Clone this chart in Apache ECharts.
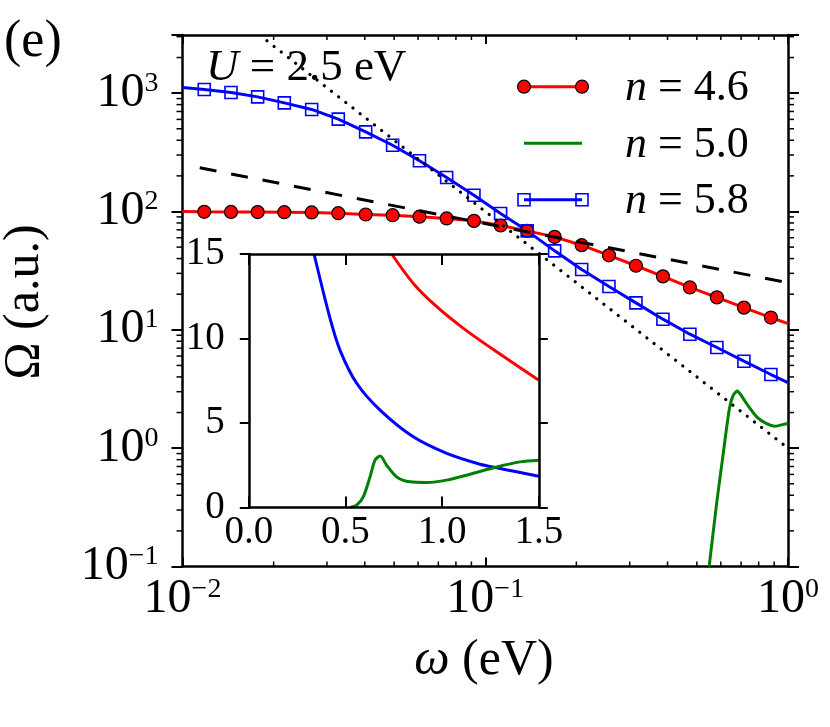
<!DOCTYPE html>
<html>
<head>
<meta charset="utf-8">
<script src="https://cdn.jsdelivr.net/npm/echarts@6/dist/echarts.min.js"></script>
<style>
html,body{margin:0;padding:0;background:#fff;}
#main{width:830px;height:727px;}
</style>
</head>
<body>
<div id="main"></div>
<script>
// omega (eV) at the marker positions, shared by n=4.6 and n=5.8
var omegaMarks = [0.0118, 0.01446, 0.01771, 0.02169, 0.02671, 0.0327, 0.04027, 0.04944, 0.06064, 0.07456, 0.09178,
                  0.1124, 0.1376, 0.1695, 0.2082, 0.2562, 0.3146, 0.3863, 0.4742, 0.5823, 0.7152, 0.8781];
var omegaEnds = [0.01, 1];
// n = 4.6
var red46 = [99.3, 99.1, 98.9, 98.6, 98.1, 96.7, 94.3, 93.0, 90.4, 87.3, 83.3,
             76.1, 68.6, 61.0, 51.9, 42.6, 34.8, 28.3, 22.8, 18.8, 15.4, 12.7];
var red46Ends = [100, 11.3];
// n = 5.8
var blue58 = [1075, 1014, 930, 828, 728, 603, 471, 363, 268, 194, 137,
              96.2, 68.6, 46.5, 32.3, 23.2, 16.9, 12.3, 9.18, 7.09, 5.43, 4.19];
var blue58Ends = [1117, 3.58];
// n = 5.0 (only above 0.1 on the log plot)
var greenOmega = [0.549, 0.581, 0.611, 0.639, 0.659, 0.68, 0.70, 0.73, 0.788, 0.85, 0.905, 0.989, 1];
var green50 = [0.1, 0.34, 0.9, 2.09, 2.8, 3.04, 2.8, 2.38, 1.84, 1.61, 1.53, 1.61, 1.62];
// guide lines: omega^-1/2 (dashed) and omega^-2 (dotted)
var dashOmega = [0.0114, 1];
var dashVal = [234, 25];
var dotOmega = [0.019, 1];
var dotVal = [2770, 1];
// inset, linear axes
var insetRedW = [0.739, 0.851, 0.972, 1.11, 1.282, 1.498];
var insetRed = [15, 13.26, 11.88, 10.6, 9.21, 7.54];
var insetBlueW = [0.3375, 0.42, 0.472, 0.558, 0.679, 0.851, 1.024, 1.196, 1.3, 1.386, 1.5];
var insetBlue = [15, 11.2, 9.3, 7.35, 5.76, 4.18, 3.2, 2.56, 2.31, 2.11, 1.85];
var insetGreenW = [0.524, 0.558, 0.592, 0.627, 0.653, 0.679, 0.713, 0.765, 0.834, 0.92, 1.024, 1.144, 1.282, 1.403, 1.5];
var insetGreen = [0, 0.14, 0.63, 1.81, 2.8, 3.04, 2.5, 1.81, 1.52, 1.48, 1.62, 1.97, 2.4, 2.7, 2.8];

var FONT = '"Liberation Serif", "DejaVu Serif", serif';

function pairs(xs, ys) {
    return xs.map(function (x, i) { return [x, ys[i]]; });
}
function withEnds(xs, ys, ends) {
    return [[omegaEnds[0], ends[0]]].concat(pairs(xs, ys), [[omegaEnds[1], ends[1]]]);
}
function powLabel(v) {
    var l = Math.log10(v), e = Math.round(l);
    if (Math.abs(l - e) > 1e-6) return '';
    return '{b|10}{s|' + (e < 0 ? '\u2212' + (-e) : e) + '}';
}

var powRich = {
    b: {fontSize: 48, fontFamily: FONT, color: '#000', verticalAlign: 'bottom'},
    s: {fontSize: 28, fontFamily: FONT, color: '#000', verticalAlign: 'top'}
};
var black = {color: '#000', width: 2.5};

var dom = document.getElementById('main');
var chart = echarts.init(dom);
var option = {
    animation: false,
    textStyle: {fontFamily: FONT},
    grid: [
        {left: 182.5, right: 42, top: 35, bottom: 160.5, outerBoundsMode: 'none'},
        {left: 248.8, right: 291.2, top: 254, bottom: 219.5, outerBoundsMode: 'none'}
    ],
    xAxis: [
        {type: 'log', logBase: 10, gridIndex: 0, min: 0.01, max: 1, position: 'bottom',
         axisLine: {onZero: false, lineStyle: black},
         axisTick: {inside: true, length: 9, lineStyle: {color: '#000', width: 2}},
         axisLabel: {formatter: powLabel, margin: 9, rich: powRich},
         splitLine: {show: false}},
        {type: 'log', logBase: 10, gridIndex: 0, min: 0.01, max: 1, position: 'top',
         axisLine: {onZero: false, lineStyle: black},
         axisTick: {inside: true, length: 9, lineStyle: {color: '#000', width: 2}},
         axisLabel: {show: false}, splitLine: {show: false}},
        {type: 'value', gridIndex: 1, min: 0, max: 1.5, interval: 0.5, position: 'bottom', z: 5,
         axisLine: {onZero: false, lineStyle: black},
         axisTick: {inside: true, length: 11, lineStyle: {color: '#000', width: 2}},
         axisLabel: {fontSize: 39, color: '#000', margin: 6, fontFamily: FONT,
                     formatter: function (v) { return v.toFixed(1); }},
         splitLine: {show: false}},
        {type: 'value', gridIndex: 1, min: 0, max: 1.5, interval: 0.5, position: 'top', z: 5,
         axisLine: {onZero: false, lineStyle: black},
         axisTick: {inside: true, length: 11, lineStyle: {color: '#000', width: 2}},
         axisLabel: {show: false}, splitLine: {show: false}}
    ],
    yAxis: [
        {type: 'log', logBase: 10, gridIndex: 0, min: 0.1, max: 3100, position: 'left',
         axisLine: {onZero: false, lineStyle: black},
         axisTick: {inside: false, length: 11, lineStyle: {color: '#000', width: 2}},
         axisLabel: {formatter: powLabel, margin: 24, rich: powRich},
         splitLine: {show: false}},
        {type: 'log', logBase: 10, gridIndex: 0, min: 0.1, max: 3100, position: 'right',
         axisLine: {onZero: false, lineStyle: black},
         axisTick: {inside: false, length: 11, lineStyle: {color: '#000', width: 2}},
         axisLabel: {show: false}, splitLine: {show: false}},
        {type: 'value', gridIndex: 1, min: 0, max: 15, interval: 5, position: 'left', z: 5,
         axisLine: {onZero: false, lineStyle: black},
         axisTick: {inside: false, length: 9, lineStyle: {color: '#000', width: 2}},
         axisLabel: {fontSize: 39, color: '#000', margin: 24, fontFamily: FONT},
         splitLine: {show: false}},
        {type: 'value', gridIndex: 1, min: 0, max: 15, interval: 5, position: 'right', z: 5,
         axisLine: {onZero: false, lineStyle: black},
         axisTick: {inside: false, length: 9, lineStyle: {color: '#000', width: 2}},
         axisLabel: {show: false}, splitLine: {show: false}}
    ],
    series: [
        {name: 'n = 4.6', type: 'line', xAxisIndex: 0, yAxisIndex: 0, z: 2,
         data: withEnds(omegaMarks, red46, red46Ends), showSymbol: false,
         lineStyle: {color: '#ff0000', width: 3}},
        {name: 'n = 4.6', type: 'scatter', xAxisIndex: 0, yAxisIndex: 0, z: 3,
         data: pairs(omegaMarks, red46), symbol: 'circle', symbolSize: 13,
         itemStyle: {color: '#ff0000', borderColor: '#000', borderWidth: 1.2, opacity: 1}},
        {name: 'n = 5.0', type: 'line', xAxisIndex: 0, yAxisIndex: 0, z: 2,
         data: pairs(greenOmega, green50), showSymbol: false, smooth: 0.2,
         lineStyle: {color: '#008000', width: 3}},
        {name: 'n = 5.8', type: 'line', xAxisIndex: 0, yAxisIndex: 0, z: 2,
         data: withEnds(omegaMarks, blue58, blue58Ends), showSymbol: false,
         lineStyle: {color: '#0000ff', width: 3}},
        {name: 'n = 5.8', type: 'scatter', xAxisIndex: 0, yAxisIndex: 0, z: 3,
         data: pairs(omegaMarks, blue58), symbol: 'rect', symbolSize: 12,
         itemStyle: {color: 'rgba(255,255,255,0)', borderColor: '#0000ff', borderWidth: 1.6, opacity: 1}},
        {type: 'line', xAxisIndex: 0, yAxisIndex: 0, z: 4,
         data: pairs(dashOmega, dashVal), showSymbol: false,
         lineStyle: {color: '#000', width: 3, type: [17, 15]}},
        {type: 'line', xAxisIndex: 0, yAxisIndex: 0, z: 4,
         data: pairs(dotOmega, dotVal), showSymbol: false,
         lineStyle: {color: '#000', width: 3.2, type: [0.1, 9], cap: 'round'}},
        // inset
        {type: 'line', xAxisIndex: 2, yAxisIndex: 2, z: 2, data: pairs(insetRedW, insetRed),
         showSymbol: false, smooth: 0.3, lineStyle: {color: '#ff0000', width: 3}},
        {type: 'line', xAxisIndex: 2, yAxisIndex: 2, z: 2, data: pairs(insetBlueW, insetBlue),
         showSymbol: false, smooth: 0.3, lineStyle: {color: '#0000ff', width: 3}},
        {type: 'line', xAxisIndex: 2, yAxisIndex: 2, z: 2, data: pairs(insetGreenW, insetGreen),
         showSymbol: false, smooth: 0.3, lineStyle: {color: '#008000', width: 3}}
    ]
};
chart.setOption(option);

// minor ticks of the log axes + texts and legend
function txt(x, y, text, size, extra) {
    var o = {type: 'text', x: x, y: y, z: 50,
        style: {text: text, font: size + 'px ' + FONT, fill: '#000', textAlign: 'left', textVerticalAlign: 'middle',
                rich: {i: {fontStyle: 'italic', fontSize: size, fontFamily: FONT}}}};
    if (extra) for (var k in extra) o[k] = extra[k];
    return o;
}
var g = [];
var xl = chart.convertToPixel({xAxisIndex: 0}, 0.01), xr = chart.convertToPixel({xAxisIndex: 0}, 1);
var yb = chart.convertToPixel({yAxisIndex: 0}, 0.1), yt = chart.convertToPixel({yAxisIndex: 0}, 3100);
var e, k, p;
for (e = -2; e <= -1; e++) {
    for (k = 2; k <= 9; k++) {
        p = chart.convertToPixel({xAxisIndex: 0}, k * Math.pow(10, e));
        g.push({type: 'line', z: 5, shape: {x1: p, y1: yb, x2: p, y2: yb - 5}, style: {stroke: '#000', lineWidth: 1.5}});
        g.push({type: 'line', z: 5, shape: {x1: p, y1: yt, x2: p, y2: yt + 5}, style: {stroke: '#000', lineWidth: 1.5}});
    }
}
for (e = -1; e <= 3; e++) {
    for (k = 2; k <= 9; k++) {
        var v = k * Math.pow(10, e);
        if (v > 3100) continue;
        p = chart.convertToPixel({yAxisIndex: 0}, v);
        g.push({type: 'line', z: 5, shape: {x1: xl, y1: p, x2: xl - 6, y2: p}, style: {stroke: '#000', lineWidth: 1.5}});
        g.push({type: 'line', z: 5, shape: {x1: xr, y1: p, x2: xr + 6, y2: p}, style: {stroke: '#000', lineWidth: 1.5}});
    }
}
g.push(txt(4, 42, '(e)', 52));
g.push(txt(206, 68, '{i|U} = 2.5 eV', 45));
g.push(txt(484, 661, '{i|\u03c9} (eV)', 50, {}));
g[g.length - 1].style.textAlign = 'center';
g.push(txt(25, 302, '\u03a9 (a.u.)', 50, {rotation: Math.PI / 2}));
g[g.length - 1].style.textAlign = 'center';
// legend
var rows = [86.7, 143.3, 199.7];
g.push({type: 'line', z: 50, shape: {x1: 524, y1: rows[0], x2: 582, y2: rows[0]}, style: {stroke: '#ff0000', lineWidth: 3}});
g.push({type: 'circle', z: 51, shape: {cx: 524, cy: rows[0], r: 6.5}, style: {fill: '#ff0000', stroke: '#000', lineWidth: 1.2}});
g.push({type: 'circle', z: 51, shape: {cx: 582, cy: rows[0], r: 6.5}, style: {fill: '#ff0000', stroke: '#000', lineWidth: 1.2}});
g.push({type: 'line', z: 50, shape: {x1: 524, y1: rows[1], x2: 582, y2: rows[1]}, style: {stroke: '#008000', lineWidth: 3}});
g.push({type: 'line', z: 50, shape: {x1: 524, y1: rows[2], x2: 582, y2: rows[2]}, style: {stroke: '#0000ff', lineWidth: 3}});
g.push({type: 'rect', z: 51, shape: {x: 518, y: rows[2] - 6, width: 12, height: 12}, style: {fill: 'none', stroke: '#0000ff', lineWidth: 1.6}});
g.push({type: 'rect', z: 51, shape: {x: 576, y: rows[2] - 6, width: 12, height: 12}, style: {fill: 'none', stroke: '#0000ff', lineWidth: 1.6}});
g.push(txt(625, rows[0] + 2, '{i|n} = 4.6', 44));
g.push(txt(625, rows[1] + 2, '{i|n} = 5.0', 44));
g.push(txt(625, rows[2] + 2, '{i|n} = 5.8', 44));
chart.setOption({graphic: g});
</script>
</body>
</html>
